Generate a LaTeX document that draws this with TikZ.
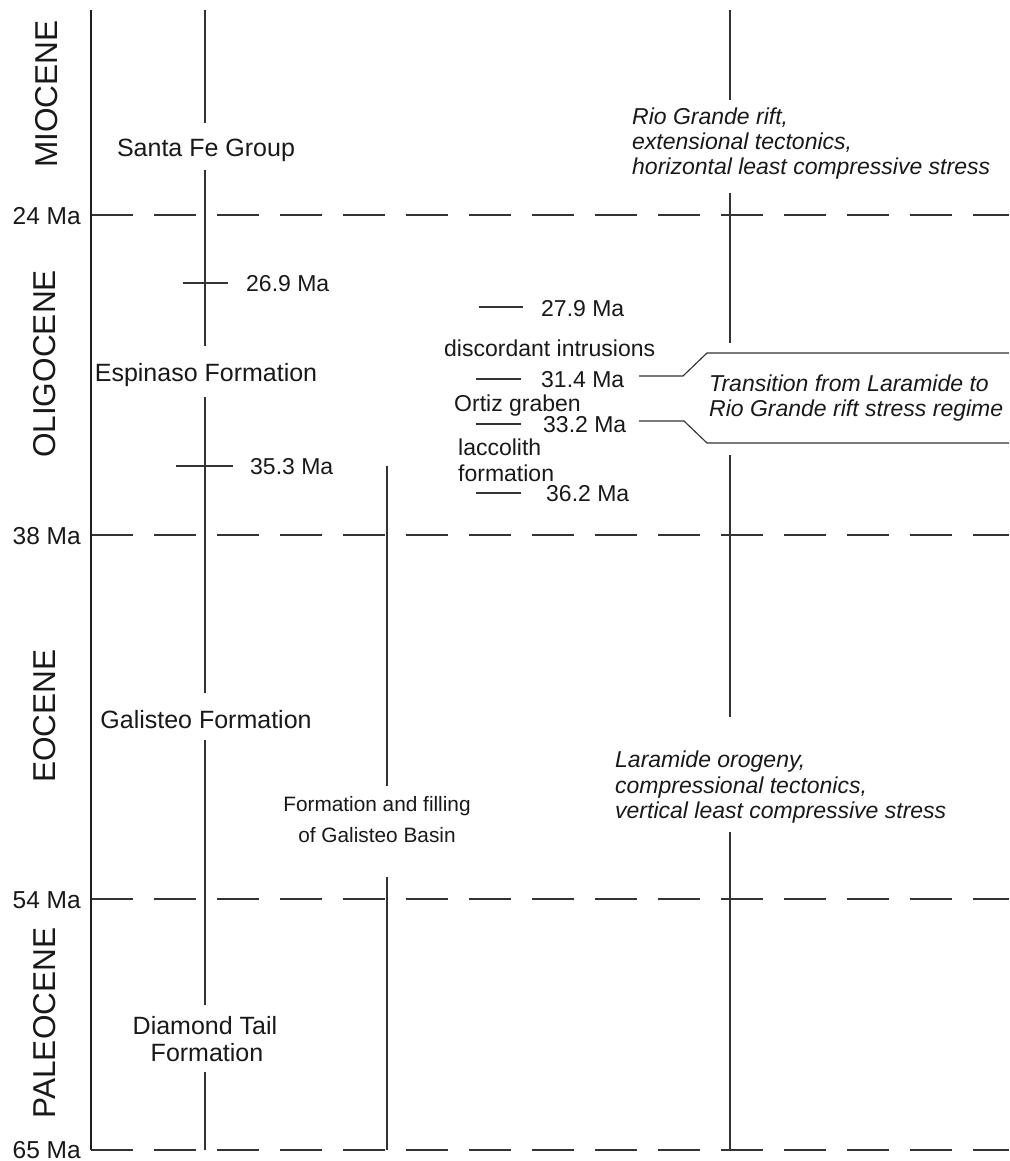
\documentclass[tikz,border=0pt]{standalone}
\usepackage{fontspec}
\setmainfont{Liberation Sans}
\begin{document}
\begin{tikzpicture}[x=1pt,y=-1pt,
  ln/.style={line width=1.15pt, draw=black!80},
  axisline/.style={line width=2.2pt, draw=black!88},
  gridline/.style={line width=1.15pt, draw=black!80, dash pattern=on 42pt off 21pt},
  lbl/.style={inner sep=0pt, text=black!90, font=\fontsize{23}{26}\selectfont},
  fm/.style={inner sep=0pt, text=black!90, font=\fontsize{25}{28}\selectfont},
  bas/.style={inner sep=0pt, text=black!90, font=\fontsize{20.8}{24}\selectfont},
  itl/.style={inner sep=0pt, text=black!90, font=\fontsize{23}{26}\selectfont\itshape, anchor=base west},
  ep/.style={inner sep=0pt, text=black!90, rotate=90, font=\fontsize{31.6}{34}\selectfont},
  ax/.style={inner sep=0pt, text=black!90, anchor=base east, font=\fontsize{24.5}{27}\selectfont}]
\useasboundingbox (0,0) rectangle (1009,1161);
\fill[white] (0,0) rectangle (1009,1161);

% dashed time lines
\draw[gridline] (91,215) -- (1009,215);
\draw[gridline] (91,535) -- (1009,535);
\draw[gridline] (91,899) -- (1009,899);
\draw[gridline] (91,1150) -- (1009,1150);

% main axis
\draw[axisline] (91,10) -- (91,1150);

% axis labels
\node[ax] (a24) at (81,224) {24 Ma};
\node[ax] (a38) at (81,544) {38 Ma};
\node[ax] (a54) at (81,908) {54 Ma};
\node[ax] (a65) at (81,1158) {65 Ma};

% epochs
\node[ep] (mio) at (47,94) {MIOCENE};
\node[ep] (oli) at (45,364) {OLIGOCENE};
\node[ep] (eoc) at (45,716) {EOCENE};
\node[ep] (pal) at (45,1023) {PALEOCENE};

% formation column
\draw[ln] (205,10) -- (205,123);
\draw[ln] (205,170) -- (205,346);
\draw[ln] (205,397) -- (205,693);
\draw[ln] (205,740) -- (205,1005);
\draw[ln] (205,1072) -- (205,1150);
\draw[ln] (183,283) -- (228,283);
\draw[ln] (176,466) -- (233,466);
\node[fm, anchor=base] (sfg) at (206,157) {Santa Fe Group};
\node[lbl, anchor=base west] (t269) at (246,291) {26.9 Ma};
\node[fm, anchor=base] (esp) at (206,381) {Espinaso Formation};
\node[lbl, anchor=base west] (t353) at (250,474) {35.3 Ma};
\node[fm, anchor=base] (gal) at (206,728) {Galisteo Formation};
\node[fm, anchor=base] (dt1) at (205,1034) {Diamond Tail};
\node[fm, anchor=base] (dt2) at (207,1061) {Formation};

% Galisteo basin column
\draw[ln] (387,466) -- (387,786);
\draw[ln] (387,877) -- (387,1150);
\node[bas, anchor=base] (gb1) at (377,811) {Formation and filling};
\node[bas, anchor=base] (gb2) at (377,842) {of Galisteo Basin};

% Ortiz column
\draw[ln] (479,307) -- (523,307);
\draw[ln] (476,379) -- (521,379);
\draw[ln] (476,424) -- (521,424);
\draw[ln] (476,493) -- (521,493);
\node[lbl, anchor=base west] (t279) at (541,316) {27.9 Ma};
\node[lbl, anchor=base west] (dis) at (444,356) {discordant intrusions};
\node[lbl, anchor=base west] (t314) at (541,387) {31.4 Ma};
\node[lbl, anchor=base west] (ort) at (454,411) {Ortiz graben};
\node[lbl, anchor=base west] (t332) at (543,432) {33.2 Ma};
\node[lbl, anchor=base west] (lac1) at (458,455) {laccolith};
\node[lbl, anchor=base west] (lac2) at (458,481) {formation};
\node[lbl, anchor=base west] (t362) at (546,501) {36.2 Ma};

% tectonics column
\draw[ln] (730,10) -- (730,100);
\draw[ln] (730,193) -- (730,343);
\draw[ln] (730,455) -- (730,717);
\draw[ln] (730,832) -- (730,1150);
\node[itl] (rg1) at (632,125) {Rio Grande rift,};
\node[itl] (rg2) at (632,150) {extensional tectonics,};
\node[itl] (rg3) at (632,175) {horizontal least compressive stress};
\node[itl] (tr1) at (709,391) {Transition from Laramide to};
\node[itl] (tr2) at (709,416) {Rio Grande rift stress regime};
\node[itl] (lo1) at (615,767) {Laramide orogeny,};
\node[itl] (lo2) at (615,793) {compressional tectonics,};
\node[itl] (lo3) at (615,818) {vertical least compressive stress};

% bracket
\draw[ln] (639,376) -- (683,376) -- (707,353) -- (1009,353);
\draw[ln] (639,421) -- (684,421) -- (707,443) -- (1009,443);
\end{tikzpicture}
\end{document}
